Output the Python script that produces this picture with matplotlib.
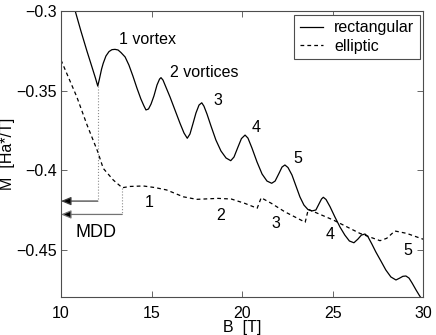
import numpy as np
import matplotlib
matplotlib.use("Agg")
import matplotlib.pyplot as plt

plt.rcParams['font.family'] = ['Liberation Sans', 'DejaVu Sans']
plt.rcParams['font.size'] = 11.5

# rectangular dot (solid curve)
b_rect = [10.46, 10.77, 11.10, 11.43, 11.71, 11.90, 12.03, 12.12, 12.24, 12.33,
          12.48, 12.65, 12.81, 12.98, 13.15, 13.31, 13.54, 13.75, 13.97, 14.19,
          14.41, 14.58, 14.69, 14.83, 14.97, 15.13, 15.30, 15.44, 15.52, 15.63,
          15.79, 16.02, 16.29, 16.57, 16.79, 16.97, 17.12, 17.28, 17.45, 17.62,
          17.77, 17.89, 18.06, 18.28, 18.55, 18.83, 19.11, 19.37, 19.55, 19.77,
          19.96, 20.16, 20.32, 20.54, 20.82, 21.10, 21.37, 21.63, 21.82, 22.04,
          22.20, 22.36, 22.53, 22.75, 22.97, 23.19, 23.41, 23.63, 23.85, 24.07,
          24.24, 24.38, 24.48, 24.63, 24.85, 25.12, 25.40, 25.67, 25.92, 26.17,
          26.39, 26.58, 26.78, 26.94, 27.16, 27.38, 27.66, 27.93, 28.21, 28.49,
          28.70, 28.87, 29.04, 29.21, 29.38, 29.60, 29.77, 29.98]
m_rect = [-0.2874, -0.2994, -0.3126, -0.3251, -0.3352, -0.3421, -0.3472, -0.3428, -0.3365, -0.3329,
          -0.3283, -0.3255, -0.3243, -0.3241, -0.3245, -0.3261, -0.3289, -0.3340, -0.3409, -0.3484,
          -0.3553, -0.3597, -0.3622, -0.3616, -0.3585, -0.3534, -0.3465, -0.3428, -0.3419, -0.3434,
          -0.3478, -0.3541, -0.3622, -0.3706, -0.3767, -0.3800, -0.3773, -0.3710, -0.3641, -0.3591,
          -0.3577, -0.3598, -0.3648, -0.3723, -0.3811, -0.3880, -0.3924, -0.3941, -0.3918, -0.3855,
          -0.3802, -0.3780, -0.3799, -0.3861, -0.3949, -0.4025, -0.4069, -0.4083, -0.4069, -0.4019,
          -0.3981, -0.3968, -0.3984, -0.4031, -0.4100, -0.4169, -0.4220, -0.4248, -0.4257, -0.4251,
          -0.4213, -0.4182, -0.4171, -0.4185, -0.4230, -0.4295, -0.4358, -0.4409, -0.4446, -0.4457,
          -0.4434, -0.4409, -0.4402, -0.4418, -0.4465, -0.4515, -0.4572, -0.4628, -0.4672, -0.4691,
          -0.4679, -0.4668, -0.4666, -0.4679, -0.4710, -0.4754, -0.4786, -0.4823]

# elliptic dot (dashed curve)
b_ell = [10.00, 10.87, 11.44, 12.03, 12.33, 12.89, 13.38, 13.81, 14.54, 15.19,
         15.83, 16.75, 17.49, 18.66, 19.40, 20.14, 20.83, 21.05, 21.61, 22.35,
         23.48, 23.65, 25.03, 26.50, 27.61, 27.98, 28.43, 29.08, 30.00]
m_ell = [-0.3308, -0.3539, -0.3717, -0.3885, -0.3989, -0.4063, -0.4111, -0.4103, -0.4100, -0.4110,
         -0.4125, -0.4168, -0.4184, -0.4178, -0.4182, -0.4209, -0.4240, -0.4174, -0.4209, -0.4262,
         -0.4328, -0.4247, -0.4314, -0.4398, -0.4444, -0.4429, -0.4383, -0.4398, -0.4435]

# MDD markers: field, top of dotted line, arrow level
mdd_b = [12.03, 13.38]
mdd_top = [-0.3472, -0.4111]
mdd_arrow = [-0.4195, -0.4279]

rect_labels = ['1 vortex', '2 vortices', '3', '4', '5']
rect_lab_b = [13.22, 16.02, 18.66, 20.76, 23.06]
rect_lab_m = [-0.3182, -0.3384, -0.3560, -0.3731, -0.3926]
ell_labels = ['1', '2', '3', '4', '5']
ell_lab_b = [14.86, 18.83, 21.87, 24.88, 29.17]
ell_lab_m = [-0.4203, -0.4283, -0.4339, -0.4408, -0.4507]

fig = plt.figure(figsize=(4.36, 3.35), dpi=100)
ax = fig.add_axes([0.1399, 0.1125, 0.8310, 0.8546])

ax.plot(b_rect, m_rect, color='black', lw=0.9, label='rectangular')
ax.plot(b_ell, m_ell, color='black', lw=0.9, linestyle=(0, (3, 2.5)), label='elliptic')

arrow_cols = ['0.25', '0.45']
for b, top, ya, c in zip(mdd_b, mdd_top, mdd_arrow, arrow_cols):
    ax.plot([b, b], [top, ya], color='0.55', lw=0.8, linestyle=':')
    ax.annotate('', xy=(10, ya), xytext=(b, ya),
                arrowprops=dict(arrowstyle='-|>,head_length=0.6,head_width=0.25',
                                color=c, fc='black', ec=c, lw=0.9,
                                shrinkA=0, shrinkB=0, mutation_scale=10))
ax.text(11.92, -0.4391, 'MDD', fontsize=13, ha='center', va='center')

ax.text(rect_lab_b[0], rect_lab_m[0], rect_labels[0], ha='left', va='center')
ax.text(rect_lab_b[1], rect_lab_m[1], rect_labels[1], ha='left', va='center')
for t, b, m in zip(rect_labels[2:], rect_lab_b[2:], rect_lab_m[2:]):
    ax.text(b, m, t, ha='center', va='center')
for t, b, m in zip(ell_labels, ell_lab_b, ell_lab_m):
    ax.text(b, m, t, ha='center', va='center')

ax.set_xlim(10, 30)
ax.set_ylim(-0.48, -0.3)
ax.set_xticks([10, 15, 20, 25, 30])
ax.set_yticks([-0.45, -0.4, -0.35, -0.3])
ax.set_yticklabels(['\u22120.45', '\u22120.4', '\u22120.35', '\u22120.3'])
ax.tick_params(direction='in', top=True, right=True, length=4, width=0.6,
               labelsize=11.5, color='0.3')
ax.tick_params(axis='x', pad=6)
ax.tick_params(axis='y', pad=3)
for s in ax.spines.values():
    s.set_color('0.3')
    s.set_linewidth(0.8)

ax.set_xlabel('B  [T]')
ax.xaxis.set_label_coords(0.5, -0.078)
ax.set_ylabel('M  [Ha*/T]')
ax.yaxis.set_label_coords(-0.128, 0.5)

leg = ax.legend(loc='upper right', bbox_to_anchor=(0.99, 0.987), borderaxespad=0,
                fancybox=False, framealpha=1, edgecolor='0.3', handlelength=1.45,
                handletextpad=0.7, labelspacing=0.2, borderpad=0.35, fontsize=11.5)
leg.get_frame().set_linewidth(0.8)

fig.savefig('out.png', dpi=100)
